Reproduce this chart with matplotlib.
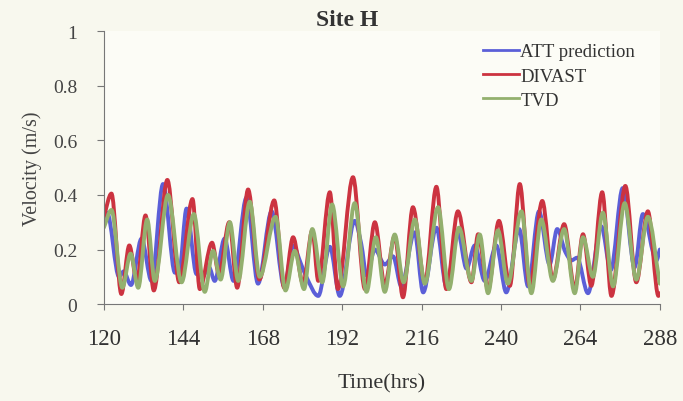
"""Site H velocity comparison: ATT prediction vs DIVAST vs TVD."""
import numpy as np
import matplotlib
matplotlib.use("Agg")
import matplotlib.pyplot as plt
from matplotlib.path import Path
from matplotlib.patches import PathPatch
from matplotlib.lines import Line2D

plt.rcParams["font.family"] = ["Liberation Serif", "DejaVu Serif"]

# values (turning points and shoulders)
att_t = [120, 121.0, 124.6, 126.0, 128.2, 131.4, 134.4, 137.9, 141.5, 142.8, 145.0,
         148.0, 150.0, 151.8, 153.5, 156.5, 159.2, 163.1, 166.6, 170.7, 174.5, 177.2,
         179.5, 181.2, 184.8, 188.3, 191.3, 195.8, 197.8, 199.4, 201.9, 204.9, 207.4,
         209.9, 213.9, 216.5, 220.5, 223.5, 227.0, 229.6, 232.1, 235.1, 238.6, 241.6,
         245.5, 248.2, 251.5, 254.7, 257.0, 259.5, 261.3, 263.0, 266.3, 270.3, 273.2,
         276.8, 280.4, 282.9, 287.0, 288]
att_v = [0.30, 0.335, 0.10, 0.12, 0.07, 0.24, 0.085, 0.44, 0.115, 0.12, 0.35,
         0.11, 0.105, 0.135, 0.085, 0.24, 0.085, 0.39, 0.075, 0.34, 0.065, 0.215,
         0.15, 0.10, 0.03, 0.21, 0.03, 0.305, 0.22, 0.105, 0.20, 0.145, 0.175,
         0.065, 0.263, 0.043, 0.28, 0.065, 0.263, 0.13, 0.215, 0.085, 0.215, 0.043,
         0.275, 0.065, 0.34, 0.145, 0.275, 0.19, 0.16, 0.17, 0.04, 0.285, 0.125,
         0.425, 0.135, 0.33, 0.16, 0.20]

divast_t = [120, 122.3, 125.3, 127.7, 130.0, 132.6, 135.1, 139.2, 142.8, 146.8, 149.0,
            152.7, 154.8, 157.9, 160.3, 163.6, 167.0, 171.5, 174.5, 177.2, 180.2, 183.0,
            184.8, 188.3, 190.7, 195.3, 198.9, 201.9, 204.9, 207.9, 210.4, 213.4, 217.0,
            220.5, 223.5, 227.0, 231.1, 233.1, 236.1, 239.4, 242.7, 245.7, 248.7, 252.5,
            255.7, 259.1, 262.3, 264.8, 267.3, 270.6, 273.4, 277.6, 280.9, 284.4, 287.6, 288]
divast_v = [0.32, 0.405, 0.037, 0.215, 0.085, 0.325, 0.05, 0.455, 0.08, 0.385, 0.055,
            0.225, 0.11, 0.30, 0.06, 0.42, 0.09, 0.38, 0.06, 0.245, 0.075, 0.27,
            0.085, 0.41, 0.055, 0.465, 0.055, 0.30, 0.07, 0.25, 0.025, 0.355, 0.08,
            0.43, 0.055, 0.34, 0.08, 0.256, 0.055, 0.305, 0.067, 0.44, 0.067, 0.378,
            0.09, 0.293, 0.055, 0.256, 0.067, 0.41, 0.03, 0.433, 0.08, 0.34, 0.03, 0.04]

tvd_t = [120, 122.3, 125.6, 128.1, 130.4, 133.1, 135.4, 139.4, 143.5, 147.2, 150.5,
         153.0, 155.3, 158.1, 160.6, 164.1, 167.1, 171.9, 174.9, 177.7, 180.5, 183.0,
         186.0, 189.0, 192.3, 195.8, 199.4, 202.2, 204.9, 207.9, 210.6, 214.0, 217.0,
         221.0, 224.3, 227.3, 231.1, 233.6, 236.1, 239.1, 242.1, 246.2, 249.2, 252.2,
         255.7, 259.1, 262.3, 264.8, 267.8, 270.8, 273.9, 277.4, 280.9, 284.4, 288]
tvd_v = [0.28, 0.345, 0.06, 0.185, 0.06, 0.31, 0.085, 0.40, 0.08, 0.33, 0.045,
         0.195, 0.09, 0.30, 0.085, 0.375, 0.10, 0.32, 0.05, 0.195, 0.055, 0.275,
         0.08, 0.365, 0.065, 0.37, 0.045, 0.245, 0.045, 0.255, 0.08, 0.31, 0.075,
         0.355, 0.055, 0.28, 0.085, 0.255, 0.04, 0.27, 0.075, 0.34, 0.04, 0.31,
         0.085, 0.275, 0.04, 0.245, 0.10, 0.335, 0.065, 0.37, 0.09, 0.32, 0.075]

series = [("ATT prediction", att_t, att_v, "#5b5fd8"),
          ("DIVAST", divast_t, divast_v, "#cc3340"),
          ("TVD", tvd_t, tvd_v, "#93b06e")]

x_ticks = [120, 144, 168, 192, 216, 240, 264, 288]
y_ticks = [0, 0.2, 0.4, 0.6, 0.8, 1]
y_labels = ["0", "0.2", "0.4", "0.6", "0.8", "1"]


def smooth_path(t, v):
    # smoothed line (like a spreadsheet "smooth line") through the read points
    t = np.asarray(t, float)
    v = np.asarray(v, float)
    h = np.diff(t)
    d = np.diff(v) / h
    m = np.zeros_like(v)
    for i in range(1, len(v) - 1):
        if d[i - 1] * d[i] > 0:
            w1 = 2 * h[i] + h[i - 1]
            w2 = h[i] + 2 * h[i - 1]
            m[i] = (w1 + w2) / (w1 / d[i - 1] + w2 / d[i])
    m[0], m[-1] = d[0], d[-1]
    verts = [(t[0], v[0])]
    codes = [Path.MOVETO]
    for i in range(len(t) - 1):
        verts += [(t[i] + h[i] / 3, v[i] + m[i] * h[i] / 3),
                  (t[i + 1] - h[i] / 3, v[i + 1] - m[i + 1] * h[i] / 3),
                  (t[i + 1], v[i + 1])]
        codes += [Path.CURVE4] * 3
    return Path(verts, codes)


fig = plt.figure(figsize=(6.83, 4.02), dpi=100, facecolor="#f8f8ee")
ax = fig.add_axes([0.152, 0.241, 0.814, 0.679], facecolor="#fcfcf6")

handles = []
for name, t, v, col in series:
    ax.add_patch(PathPatch(smooth_path(t, v), fill=False, edgecolor=col, lw=2.8,
                           joinstyle="round", capstyle="round"))
    handles.append(Line2D([], [], color=col, lw=2, label=name))

ax.set_xlim(120, 288)
ax.set_ylim(0, 1)
ax.set_xticks(x_ticks)
ax.set_yticks(y_ticks)
ax.set_yticklabels(y_labels)
for s in ["top", "right"]:
    ax.spines[s].set_visible(False)
for s in ["left", "bottom"]:
    ax.spines[s].set_color("#777777")
ax.tick_params(axis="x", length=4, pad=13, labelsize=16.5, colors="#777777", labelcolor="#333333")
ax.tick_params(axis="y", length=5, pad=14, labelsize=14, colors="#777777", labelcolor="#444444")

ax.set_ylabel("Velocity (m/s)", fontsize=14.5, color="#444444", labelpad=8)
ax.set_xlabel("Time(hrs)", fontsize=16, color="#333333", labelpad=18)
fig.text(0.508, 0.948, "Site H", ha="center", va="center", fontsize=17,
         fontweight="bold", color="#333333")

ax.legend(handles=handles, loc="upper left", bbox_to_anchor=(0.665, 0.99),
          frameon=False, fontsize=13.5, handlelength=1.9, handletextpad=0.1,
          labelspacing=0.38, borderpad=0, labelcolor="#333333")

plt.savefig("out.png", dpi=100, facecolor=fig.get_facecolor())
plt.close()
